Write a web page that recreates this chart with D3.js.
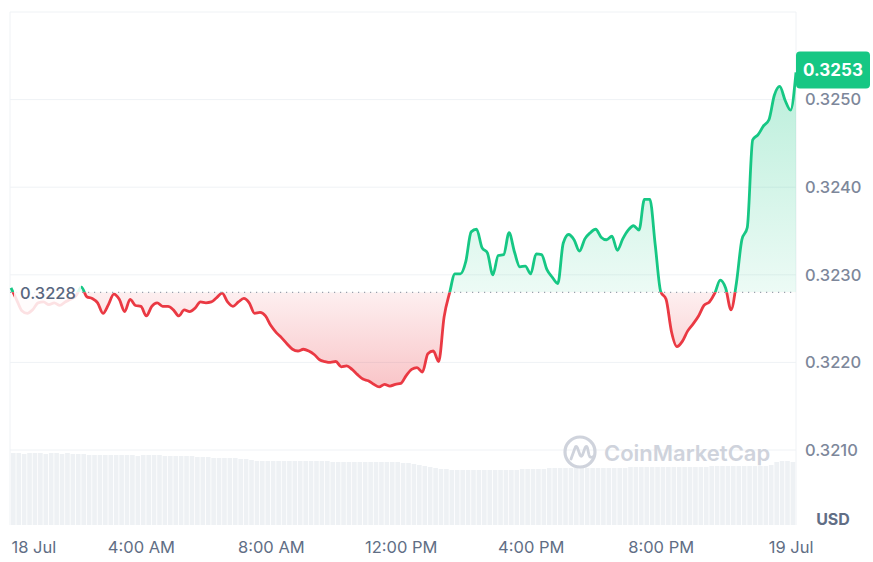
<!DOCTYPE html>
<html>
<head>
<meta charset="utf-8">
<script src="https://cdn.jsdelivr.net/npm/d3@7"></script>
<style>
body { margin: 0; background: #fff; }
svg { display: block; font-family: Inter, "Noto Sans", sans-serif; }
</style>
</head>
<body>
<svg></svg>
<script>
// price every 10 minutes from 18 Jul 00:00
var stepMinutes = 10;
var openPrice = 0.3228;
var prices = [
  0.32285, 0.32272, 0.32259, 0.32256, 0.32260, 0.32268, 0.32269, 0.32266, 0.32268, 0.32265,
  0.32269, 0.32272, 0.32276, 0.32286, 0.32275, 0.32273, 0.32268, 0.32256, 0.32266, 0.32278,
  0.32272, 0.32258, 0.32272, 0.32265, 0.32264, 0.32253, 0.32264, 0.32268, 0.32264, 0.32264,
  0.32260, 0.32253, 0.32260, 0.32258, 0.32262, 0.32269, 0.32268, 0.32269, 0.32274, 0.32279,
  0.32269, 0.32264, 0.32269, 0.32273, 0.32268, 0.32256, 0.32257, 0.32253, 0.32242, 0.32234,
  0.32228, 0.32221, 0.32215, 0.32213, 0.32215, 0.32213, 0.32209, 0.32203, 0.32201, 0.32200,
  0.32201, 0.32195, 0.32196, 0.32192, 0.32186, 0.32181, 0.32179, 0.32175, 0.32172, 0.32175,
  0.32173, 0.32175, 0.32176, 0.32185, 0.32192, 0.32194, 0.32189, 0.32210, 0.32213, 0.32201,
  0.32252, 0.32279, 0.32301, 0.32301, 0.32315, 0.32349, 0.32352, 0.32331, 0.32325, 0.32300,
  0.32322, 0.32323, 0.32348, 0.32326, 0.32309, 0.32310, 0.32301, 0.32324, 0.32323, 0.32306,
  0.32297, 0.32290, 0.32336, 0.32346, 0.32340, 0.32327, 0.32341, 0.32348, 0.32352, 0.32343,
  0.32340, 0.32344, 0.32328, 0.32341, 0.32351, 0.32356, 0.32351, 0.32386, 0.32386, 0.32334,
  0.32281, 0.32272, 0.32235, 0.32218, 0.32224, 0.32236, 0.32244, 0.32253, 0.32265, 0.32269,
  0.32279, 0.32294, 0.32285, 0.32260, 0.32291, 0.32340, 0.32354, 0.32454, 0.32460, 0.32470,
  0.32477, 0.32505, 0.32515, 0.32499, 0.32488, 0.32531
];
// volume (millions) per 10 minute bar
var volumes = [
  7.2, 7.2, 7.1, 7.2, 7.2, 7.2, 7.1, 7.2, 7.2, 7.1, 7.2, 7.1, 7.1, 7.1,
  7.0, 7.0, 7.0, 7.0, 7.0, 7.0, 7.0, 7.0, 7.0, 6.9, 7.0, 7.0, 7.0, 7.0, 6.9, 6.9, 6.9,
  6.9, 6.9, 6.9, 6.8, 6.8, 6.8,
  6.7, 6.7, 6.7, 6.7, 6.7, 6.6, 6.6, 6.5,
  6.4, 6.4, 6.4, 6.4, 6.4, 6.4, 6.4, 6.4, 6.4, 6.4, 6.4, 6.4, 6.4, 6.4,
  6.3, 6.3, 6.3, 6.3, 6.3, 6.3, 6.3, 6.3, 6.3, 6.3, 6.3, 6.3, 6.3, 6.2,
  6.2, 6.1, 6.0, 5.9, 5.8, 5.7,
  5.6, 5.6, 5.5, 5.5, 5.5, 5.5, 5.5, 5.5, 5.5, 5.5, 5.5, 5.5, 5.5, 5.5, 5.5, 5.6, 5.6, 5.6, 5.6, 5.6,
  5.7, 5.7, 5.7, 5.7, 5.7, 5.7, 5.7, 5.7, 5.7, 5.7, 5.7, 5.7, 5.7, 5.7, 5.7,
  5.8, 5.8, 5.8, 5.8, 5.8, 5.8, 5.8, 5.8, 5.8, 5.8, 5.8, 5.8, 5.8, 5.8, 5.8,
  5.9, 5.9, 5.9, 5.9, 5.9, 5.9, 5.9, 5.9, 5.9, 5.9, 5.9, 6.0,
  6.3, 6.4, 6.4, 6.3
];
var priceTicks = [0.3210, 0.3220, 0.3230, 0.3240, 0.3250];
var gridTicks = [0.3210, 0.3220, 0.3230, 0.3240, 0.3250, 0.3260];
var timeTicks = [0, 4, 8, 12, 16, 20, 24]; // hours after 18 Jul 00:00
var timeLabels = ["18 Jul", "4:00 AM", "8:00 AM", "12:00 PM", "4:00 PM", "8:00 PM", "19 Jul"];

var green = "#16c784", red = "#ea3943";
var svg = d3.select("svg").attr("width", 873).attr("height", 562);

var plotLeft = 10, plotRight = 796, plotTop = 12, volBottom = 525;
var x = d3.scaleLinear().domain([0, (prices.length - 1) * stepMinutes]).range([11, plotRight]);
var y = d3.scaleLinear().domain([0.3210, 0.3260]).range([450, plotTop]);
var v = d3.scaleLinear().domain([0, 8]).range([volBottom, 445]);
var yBase = y(openPrice);

var defs = svg.append("defs");
defs.append("clipPath").attr("id", "above")
  .append("rect").attr("x", 0).attr("y", 0).attr("width", 873).attr("height", yBase);
defs.append("clipPath").attr("id", "below")
  .append("rect").attr("x", 0).attr("y", yBase).attr("width", 873).attr("height", 562 - yBase);

var gg = defs.append("linearGradient").attr("id", "gfill")
  .attr("gradientUnits", "userSpaceOnUse").attr("x1", 0).attr("x2", 0).attr("y1", 70).attr("y2", yBase);
gg.append("stop").attr("offset", 0).attr("stop-color", green).attr("stop-opacity", 0.3);
gg.append("stop").attr("offset", 1).attr("stop-color", green).attr("stop-opacity", 0.08);
var rg = defs.append("linearGradient").attr("id", "rfill")
  .attr("gradientUnits", "userSpaceOnUse").attr("x1", 0).attr("x2", 0).attr("y1", yBase).attr("y2", 390);
rg.append("stop").attr("offset", 0).attr("stop-color", red).attr("stop-opacity", 0.08);
rg.append("stop").attr("offset", 1).attr("stop-color", red).attr("stop-opacity", 0.3);

// grid
svg.append("g").selectAll("line").data(gridTicks).enter().append("line")
  .attr("x1", plotLeft).attr("x2", plotRight)
  .attr("y1", function (d) { return y(d); }).attr("y2", function (d) { return y(d); })
  .attr("stroke", "#eff2f5").attr("stroke-width", 1);
svg.append("line").attr("x1", plotLeft).attr("x2", plotLeft).attr("y1", plotTop).attr("y2", volBottom)
  .attr("stroke", "#eff2f5");
svg.append("line").attr("x1", plotRight).attr("x2", plotRight).attr("y1", plotTop).attr("y2", volBottom)
  .attr("stroke", "#eff2f5");

// volume
var bw = x(stepMinutes) - x(0);
svg.append("g").selectAll("rect").data(volumes).enter().append("rect")
  .attr("x", function (d, i) { return x(i * stepMinutes); })
  .attr("width", bw - 0.8)
  .attr("y", function (d) { return v(d); })
  .attr("height", function (d) { return volBottom - v(d); })
  .attr("fill", "#eef1f4");

// watermark
var wm = svg.append("g").attr("fill", "none").attr("stroke", "#cfd3dc");
wm.append("circle").attr("cx", 580).attr("cy", 452).attr("r", 15).attr("stroke-width", 3.2);
wm.append("path")
  .attr("d", "M571,459 L575,448 Q576,445 577.5,448 L580,455 Q581,457.5 582.5,455 L585,448 Q586.5,445 587.5,448 L589,455 Q590,459 594,456")
  .attr("stroke-width", 2.8).attr("stroke-linecap", "round").attr("stroke-linejoin", "round");
svg.append("text").attr("x", 604).attr("y", 461).text("CoinMarketCap")
  .attr("font-size", 22).attr("font-weight", 600).attr("fill", "#cfd3dc");

// price area + line
var area = d3.area()
  .x(function (d, i) { return x(i * stepMinutes); })
  .y0(yBase)
  .y1(function (d) { return y(d); })
  .curve(d3.curveMonotoneX);
var line = d3.line()
  .x(function (d, i) { return x(i * stepMinutes); })
  .y(function (d) { return y(d); })
  .curve(d3.curveMonotoneX);

svg.append("path").datum(prices).attr("d", area).attr("fill", "url(#gfill)").attr("clip-path", "url(#above)");
svg.append("path").datum(prices).attr("d", area).attr("fill", "url(#rfill)").attr("clip-path", "url(#below)");
svg.append("path").datum(prices).attr("d", line).attr("fill", "none").attr("stroke", green)
  .attr("stroke-width", 2.8).attr("stroke-linejoin", "round").attr("clip-path", "url(#above)");
svg.append("path").datum(prices).attr("d", line).attr("fill", "none").attr("stroke", red)
  .attr("stroke-width", 2.8).attr("stroke-linejoin", "round").attr("clip-path", "url(#below)");

// open price dotted line
svg.append("line").attr("x1", plotLeft).attr("x2", plotRight).attr("y1", yBase).attr("y2", yBase)
  .attr("stroke", "#9aa1ad").attr("stroke-width", 1.2).attr("stroke-dasharray", "1.2,4.8");

// open price label
svg.append("rect").attr("x", 14).attr("y", yBase - 16).attr("width", 67).attr("height", 46)
  .attr("fill", "#fff").attr("fill-opacity", 0.85);
svg.append("text").attr("x", 20).attr("y", yBase + 7).text(openPrice.toFixed(4))
  .attr("font-size", 16.5).attr("font-weight", 500).attr("fill", "#58667e");

// y axis
var yAxis = svg.append("g").attr("transform", "translate(" + (plotRight + 3) + ",0)")
  .call(d3.axisRight(y).tickValues(priceTicks).tickSize(0).tickPadding(6).tickFormat(d3.format(".4f")));
yAxis.select(".domain").remove();
yAxis.selectAll("text").attr("font-size", 16.5).attr("font-weight", 500).attr("fill", "#7d879a")
  .attr("font-family", "Inter, sans-serif");

// x axis
var xAxis = svg.append("g").attr("transform", "translate(0,537)")
  .call(d3.axisBottom(x).tickValues(timeTicks.map(function (h) { return h * 60; }))
    .tickSize(0).tickPadding(4).tickFormat(function (d, i) { return timeLabels[i]; }));
xAxis.select(".domain").remove();
xAxis.selectAll("text").attr("font-size", 16.5).attr("fill", "#616e85").attr("font-family", "Inter, sans-serif");
xAxis.selectAll("text").filter(function (d, i) { return i === 0; }).attr("text-anchor", "start");

// last price tag
var last = prices[prices.length - 1];
var yLast = y(last);
svg.append("rect").attr("x", plotRight).attr("y", yLast - 21).attr("width", 74).attr("height", 37)
  .attr("rx", 4).attr("fill", green);
svg.append("text").attr("x", plotRight + 37).attr("y", yLast + 3.5).attr("text-anchor", "middle")
  .text(last.toFixed(4)).attr("font-size", 17).attr("font-weight", 700).attr("fill", "#fff");

svg.append("text").attr("x", 833).attr("y", 525).attr("text-anchor", "middle").text("USD")
  .attr("font-size", 16).attr("font-weight", 700).attr("fill", "#616e85");
</script>
</body>
</html>
